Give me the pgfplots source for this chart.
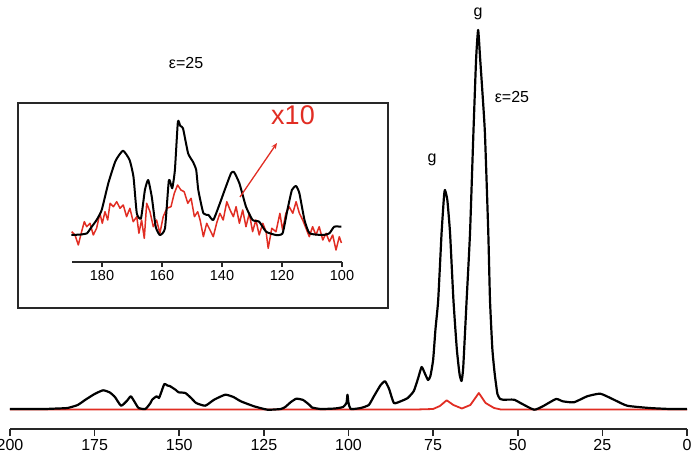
\documentclass[border=0pt]{standalone}
\usepackage{fontspec}
\setmainfont{Liberation Sans}
\usepackage{pgfplots}
\pgfplotsset{compat=1.18}
\usetikzlibrary{arrows.meta}
\definecolor{specred}{RGB}{225,45,35}
\definecolor{axgray}{RGB}{40,40,40}

\begin{document}
\begin{tikzpicture}
% main spectrum
\begin{axis}[
  at={(0pt,0pt)}, anchor=south west,
  width=677pt, height=429pt, scale only axis,
  xmin=0, xmax=200, x dir=reverse,
  ymin=-20, ymax=409,
  axis y line=none, axis x line*=bottom,
  x axis line style={-},
  axis line style={line width=1.6pt, axgray},
  xtick={0,25,...,200},
  tick align=outside, major tick length=7pt,
  tick style={line width=1.6pt, axgray},
  ticklabel style={font=\fontsize{16}{18}\selectfont},
  /pgf/number format/assume math mode=true,
  clip=false,
]
\addplot[specred, line width=1.8pt, line join=round] coordinates {
(200,-0.5)(150,-0.5)(100,-0.5)(80,-0.5)(75,0)(73,3)(71,8.7)(69,4)(66.5,0.5)(64,4)(61.5,16)(59.5,6)(57,1)(55,-0.5)(30,-0.5)(0,-0.5)
};
\addplot[black, line width=2.2pt, line join=round, smooth, tension=0.3] coordinates {
(200,0)(190,0)(186,0.5)(183,1)(180,4)(177.7,9.3)(175,15)(172.5,18.7)(170.5,16.5)(169,12)(167.2,3.3)(165.5,8)(164.3,12.7)(163,6)(162,1)(160,0)(158.5,6)(158,9.3)(156.7,12.7)(156,11)(155.5,15)(154.4,25)(153.5,23.5)(152.8,23)(151,19)(150.2,16.7)(148.2,16)(146.5,11)(145,6)(142.3,3.3)(139.7,9.3)(136.4,14.3)(134,12)(131.8,7.7)(127.9,2.7)(123.9,-0.7)(120,0)(118.7,2)(117,7)(115.4,10.3)(113.4,9)(111.5,4)(110.8,1.5)(108.2,0)(104,0.5)(101.6,2)(100.6,6)(100.3,14.3)(100,6)(99.3,0)(96.4,1)(94,4)(92.5,12.7)(90.5,24)(89.2,27.7)(88,20)(86.6,6)(84.6,7.7)(82.5,11)(80.7,18)(79.5,30)(78.4,42)(77.5,36)(76.5,29)(75.8,33)(75,49)(74.3,80)(73.5,109)(72.5,176)(71.8,212)(71.5,219)(70.8,209)(70,176)(69,109)(68,60)(67.2,35)(66.6,28)(66.1,42)(65.1,109)(64.1,176)(63.1,276)(62.3,350)(61.7,379)(61.1,350)(60.5,320)(59.7,276)(58.7,176)(58.2,109)(57.5,60)(56.8,35)(56,15)(55.2,10)(54.4,9.3)(51.1,9.3)(49.2,6)(45.2,-0.7)(42.6,2.7)(38.7,10)(36.7,7.7)(33.4,6.7)(29.5,12.7)(25.6,15.3)(21.6,9.3)(17.7,3.3)(11.1,1)(5,0)(0,0)
};
\node[font=\fontsize{16}{18}\selectfont] at (axis cs:148,346) {ε=25};
\node[font=\fontsize{16}{18}\selectfont] at (axis cs:61.7,395) {g};
\node[font=\fontsize{16}{18}\selectfont] at (axis cs:75.3,249) {g};
\node[font=\fontsize{16}{18}\selectfont] at (axis cs:51.7,312) {ε=25};
\end{axis}

% inset frame
\draw[line width=1.2pt, axgray] (8pt,121pt) rectangle (378pt,326pt);

% inset (x10)
\begin{axis}[
  at={(62pt,167pt)}, anchor=south west,
  width=270pt, height=152pt, scale only axis,
  xmin=100, xmax=190, x dir=reverse,
  ymin=-27, ymax=125,
  axis y line=none, axis x line*=bottom,
  x axis line style={-},
  axis line style={line width=1.4pt, axgray},
  xtick={100,120,...,180},
  tick align=outside, major tick length=5pt,
  tick style={line width=1.4pt, axgray},
  ticklabel style={font=\fontsize{14.5}{16}\selectfont},
  /pgf/number format/assume math mode=true,
  clip=false,
]
\addplot[specred, line width=1.5pt, line join=round] coordinates {
(190.1,3.3)(189,0)(187.9,-10)(186.8,3.3)(185.9,13.3)(185.1,8.3)(184,11.7)(182.9,0)(181.8,6.7)(180.7,21.7)(179.9,11.7)(179,23.3)(178.1,15)(177.3,31.7)(176.2,28.3)(175.1,33.3)(174,26.7)(172.9,30)(171.8,18.3)(170.7,26.7)(169.6,13.3)(168.4,18.3)(167.7,1.7)(166.8,15)(165.9,-3.3)(165.1,31.7)(164,23.3)(162.9,8.3)(161.8,15)(160.7,1.7)(159.6,18.3)(158.4,26.7)(157,28.3)(155.9,41.7)(154.8,50)(153.7,45)(152.6,43.3)(151.4,31.7)(150.3,36.7)(149.2,18.3)(148.1,23.3)(147.3,15)(146.2,-1.7)(145.1,11.7)(144,5)(142.9,-1.7)(141.8,11.7)(140.7,21.7)(139.6,15)(138.4,33.3)(137.3,25)(136.2,18.3)(135.3,28.3)(134.2,11.7)(133.1,25)(132,8.3)(130.9,21.7)(129.8,3.3)(128.7,15)(127.6,0)(126.4,11.7)(125.3,3.3)(124.6,-13.3)(123.4,6.7)(122,3.3)(120.7,21.7)(119.8,5)(118.7,21.7)(117.6,28.3)(116.4,21.7)(115.3,33.3)(114.2,21.7)(113.1,15)(112,6.7)(110.9,-1.7)(109.8,8.3)(108.7,0)(107.6,8.3)(106.4,-5)(105.3,1.7)(104.2,-6.7)(103.1,0)(102,-15)(100.9,-1.7)(100.2,-8)
};
\addplot[black, line width=2pt, line join=round, smooth, tension=0.3] coordinates {
(190.2,0)(187,0.5)(185,1.7)(183.8,6.7)(181.8,15)(180.1,25)(177.9,51.7)(175.5,74)(173,84.3)(170.8,75)(169.5,58)(168.4,21.7)(167,16.7)(165.7,45)(164.6,55)(163.4,38)(162.1,8.3)(160.7,0)(159,6.7)(157.7,55)(156.6,46.7)(155.7,65)(154.7,113.3)(153.9,109)(153,106.7)(151.3,81.7)(149.7,73.3)(148.6,65)(147.9,45)(146.2,21.7)(144.5,20)(142.9,15)(140.7,31.7)(139.1,45)(137,61.7)(136,63)(134.2,51.7)(132,28.3)(129.8,15)(127.6,13.3)(125.3,3.3)(122,0)(119.8,1.7)(118.2,25)(116.7,45)(115.3,49)(114.2,41.7)(112.5,15)(110.8,1.7)(106.4,0)(104.2,1.7)(102.6,8.3)(100.2,8.3)
};
\end{axis}

\draw[specred, line width=1.3pt, -{Stealth[length=6pt,width=5pt]}] (230pt,232pt) -- (267pt,286pt);
\node[specred, font=\fontsize{27}{30}\selectfont] at (283pt,314pt) {x10};

\pgfresetboundingbox
\path[use as bounding box] (-10pt,-37pt) rectangle (685pt,429pt);
\end{tikzpicture}
\end{document}
